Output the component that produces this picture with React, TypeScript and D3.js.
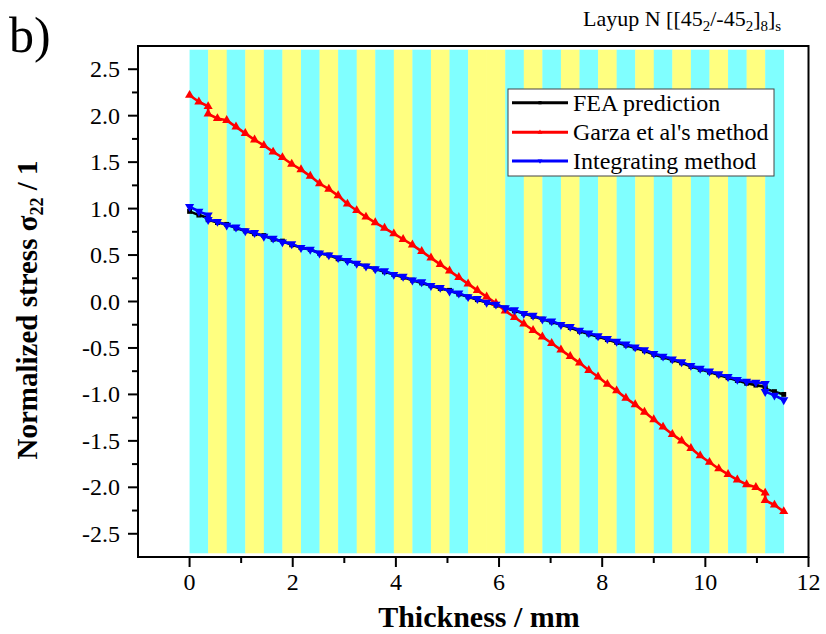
import React from 'react';
import * as d3 from 'd3';

// ---- data ----
const thickness = [0, 0.18, 0.36, 0.36, 0.54, 0.72, 0.90, 1.08, 1.26, 1.44, 1.62, 1.80, 1.98, 2.16, 2.34, 2.52, 2.70, 2.88, 3.06, 3.24, 3.42, 3.60, 3.78, 3.96, 4.14, 4.32, 4.50, 4.68, 4.86, 5.04, 5.22, 5.40, 5.58, 5.76, 5.94, 6.12, 6.30, 6.48, 6.66, 6.84, 7.02, 7.20, 7.38, 7.56, 7.74, 7.92, 8.10, 8.28, 8.46, 8.64, 8.82, 9.00, 9.18, 9.36, 9.54, 9.72, 9.90, 10.08, 10.26, 10.44, 10.62, 10.80, 10.98, 11.16, 11.16, 11.34, 11.52];

const feaPrediction = [0.97, 0.93, 0.90, 0.88, 0.85, 0.83, 0.79, 0.76, 0.73, 0.71, 0.67, 0.65, 0.61, 0.58, 0.56, 0.52, 0.50, 0.46, 0.44, 0.41, 0.38, 0.35, 0.32, 0.29, 0.26, 0.23, 0.20, 0.17, 0.14, 0.12, 0.08, 0.05, 0.02, -0.01, -0.04, -0.07, -0.10, -0.13, -0.16, -0.19, -0.22, -0.25, -0.28, -0.32, -0.35, -0.38, -0.41, -0.44, -0.47, -0.50, -0.53, -0.57, -0.60, -0.63, -0.66, -0.70, -0.73, -0.76, -0.79, -0.82, -0.85, -0.88, -0.90, -0.92, -0.94, -0.97, -1.00];

const garzaMethod = [2.22, 2.15, 2.10, 2.02, 1.97, 1.95, 1.88, 1.81, 1.74, 1.68, 1.61, 1.55, 1.48, 1.42, 1.35, 1.27, 1.21, 1.14, 1.05, 0.98, 0.91, 0.85, 0.79, 0.73, 0.67, 0.61, 0.54, 0.47, 0.40, 0.33, 0.26, 0.19, 0.12, 0.05, -0.02, -0.10, -0.17, -0.24, -0.31, -0.38, -0.45, -0.52, -0.59, -0.66, -0.74, -0.81, -0.89, -0.96, -1.04, -1.11, -1.19, -1.27, -1.35, -1.43, -1.50, -1.58, -1.66, -1.73, -1.80, -1.86, -1.92, -1.97, -2.00, -2.06, -2.14, -2.19, -2.26];

const integratingMethod = [1.02, 0.97, 0.93, 0.88, 0.86, 0.82, 0.80, 0.76, 0.74, 0.70, 0.68, 0.64, 0.62, 0.58, 0.56, 0.52, 0.50, 0.47, 0.44, 0.41, 0.38, 0.35, 0.33, 0.29, 0.27, 0.23, 0.21, 0.17, 0.15, 0.11, 0.09, 0.05, 0.03, -0.01, -0.03, -0.07, -0.09, -0.13, -0.15, -0.19, -0.21, -0.25, -0.27, -0.31, -0.34, -0.37, -0.40, -0.43, -0.46, -0.49, -0.52, -0.56, -0.59, -0.62, -0.65, -0.69, -0.72, -0.75, -0.78, -0.81, -0.84, -0.86, -0.87, -0.885, -0.97, -1.01, -1.06];

// ply groups (2 plies each, 0.36 mm), layup [[45_2/-45_2]_8]_s
const plyGroupAngles = [45, -45, 45, -45, 45, -45, 45, -45, 45, -45, 45, -45, 45, -45, 45, -45,
  -45, 45, -45, 45, -45, 45, -45, 45, -45, 45, -45, 45, -45, 45, -45, 45];
const plyGroupThickness = 0.36;
const stripeExtent = 2.71;

const xTicks = [0, 2, 4, 6, 8, 10, 12];
const xMinorTicks = [1, 3, 5, 7, 9, 11];
const yTicks = [-2.5, -2.0, -1.5, -1.0, -0.5, 0.0, 0.5, 1.0, 1.5, 2.0, 2.5];
const yMinorTicks = [-2.25, -1.75, -1.25, -0.75, -0.25, 0.25, 0.75, 1.25, 1.75, 2.25];

const seriesNames = ['FEA prediction', "Garza et al's method", 'Integrating method'];
const seriesColors = ['#000000', '#ff0000', '#0000ff'];

const FONT = '"Liberation Serif", "Times New Roman", serif';

export default function App() {
  const W = 826, H = 634;
  const x = d3.scaleLinear().domain([-1, 12]).range([138, 808.5]);
  const y = d3.scaleLinear().domain([-2.75, 2.75]).range([557, 46]);
  const [x0, x1] = x.range();
  const [yb, yt] = y.range();

  const seriesVals = [feaPrediction, garzaMethod, integratingMethod];
  const line = d3.line<[number, number]>().x(d => x(d[0])).y(d => y(d[1]));

  const square = d3.symbol(d3.symbolSquare, 24)() as string;
  const tri = d3.symbol(d3.symbolTriangle, 36)() as string;
  const markerPath = (i: number) => (i === 0 ? square : tri);
  const markerRot = (i: number) => (i === 2 ? 180 : 0);

  const legendRows = [102.7, 132.3, 161];

  return (
    <svg width={W} height={H} style={{ position: 'absolute', left: 0, top: 0, background: '#fff' }} fontFamily={FONT}>
      <rect x={0} y={0} width={W} height={H} fill="#fff" />
      {/* stripes */}
      {plyGroupAngles.map((a, i) => (
        <rect key={'s' + i}
          x={x(i * plyGroupThickness)}
          y={y(stripeExtent)}
          width={x((i + 1) * plyGroupThickness) - x(i * plyGroupThickness) + 0.3}
          height={y(-stripeExtent) - y(stripeExtent)}
          fill={a === 45 ? '#80ffff' : '#ffff80'} />
      ))}

      {/* series */}
      {seriesVals.map((vals, si) => {
        const pts: [number, number][] = thickness.map((t, k) => [t, vals[k]]);
        return (
          <g key={'g' + si}>
            <path d={line(pts) as string} fill="none" stroke={seriesColors[si]} strokeWidth={2.6} strokeLinejoin="round" />
            {pts.map((p, k) => (
              <path key={k} d={markerPath(si)} fill={seriesColors[si]}
                transform={`translate(${x(p[0])},${y(p[1])}) rotate(${markerRot(si)})`} />
            ))}
          </g>
        );
      })}

      {/* frame */}
      <rect x={x0} y={yt} width={x1 - x0} height={yb - yt} fill="none" stroke="#000" strokeWidth={2} />

      {/* x ticks */}
      {xTicks.map(t => (
        <g key={'xt' + t}>
          <line x1={x(t)} x2={x(t)} y1={yb} y2={yb + 10} stroke="#000" strokeWidth={2} />
          <text x={x(t)} y={yb + 33} textAnchor="middle" fontSize={24}>{t}</text>
        </g>
      ))}
      {xMinorTicks.map(t => (
        <line key={'xm' + t} x1={x(t)} x2={x(t)} y1={yb} y2={yb + 6} stroke="#000" strokeWidth={2} />
      ))}
      {/* y ticks */}
      {yTicks.map(t => (
        <g key={'yt' + t}>
          <line x1={x0 - 10} x2={x0} y1={y(t)} y2={y(t)} stroke="#000" strokeWidth={2} />
          <text x={x0 - 18} y={y(t) + 8} textAnchor="end" fontSize={24}>{t.toFixed(1)}</text>
        </g>
      ))}
      {yMinorTicks.map(t => (
        <line key={'ym' + t} x1={x0 - 6} x2={x0} y1={y(t)} y2={y(t)} stroke="#000" strokeWidth={2} />
      ))}

      {/* axis titles */}
      <text x={479} y={627} textAnchor="middle" fontSize={30} fontWeight="bold">Thickness / mm</text>
      <text transform="translate(37,310) rotate(-90)" textAnchor="middle" fontSize={29} fontWeight="bold">
        Normalized stress σ<tspan dy={6} fontSize={18}>22</tspan><tspan dy={-6}> / 1</tspan>
      </text>

      {/* panel label and title */}
      <text x={9} y={52} fontSize={50}>b)</text>
      <text x={583} y={26} fontSize={22}>
        Layup N [[45<tspan dy={5} fontSize={15}>2</tspan><tspan dy={-5}>/-45</tspan><tspan dy={5} fontSize={15}>2</tspan><tspan dy={-5}>]</tspan><tspan dy={5} fontSize={15}>8</tspan><tspan dy={-5}>]</tspan><tspan dy={5} fontSize={15}>s</tspan>
      </text>

      {/* legend */}
      <rect x={508} y={89} width={266} height={87} fill="#fff" stroke="#444" strokeWidth={1} />
      {seriesNames.map((n, i) => (
        <g key={'l' + i}>
          <line x1={512} x2={568} y1={legendRows[i]} y2={legendRows[i]} stroke={seriesColors[i]} strokeWidth={3} />
          <path d={d3.symbol(i === 0 ? d3.symbolSquare : d3.symbolTriangle, 10)() as string} fill={seriesColors[i]}
            transform={`translate(540,${legendRows[i]}) rotate(${markerRot(i)})`} />
          <text x={573} y={legendRows[i] + 8} fontSize={24}>{n}</text>
        </g>
      ))}
    </svg>
  );
}
